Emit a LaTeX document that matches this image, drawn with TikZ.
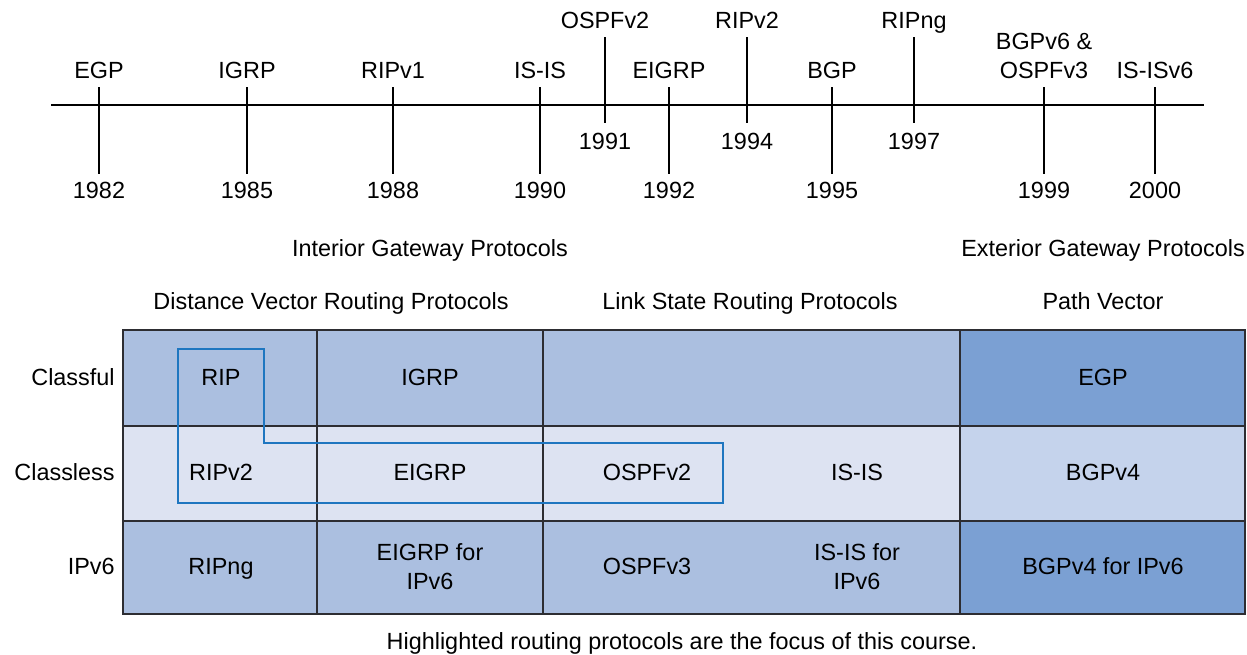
\documentclass[tikz,border=0pt]{standalone}
\usepackage{fontspec}
\setmainfont{Liberation Sans}
\usetikzlibrary{positioning}

\definecolor{igpcell}{RGB}{171,191,224}
\definecolor{igppale}{RGB}{221,227,242}
\definecolor{egpdark}{RGB}{123,160,211}
\definecolor{egplight}{RGB}{197,211,236}
\definecolor{focusblue}{RGB}{30,118,192}
\definecolor{gridline}{RGB}{45,45,50}

\tikzset{
  lbl/.style={anchor=south,align=center,inner sep=0pt,text depth=0pt},
  rowlbl/.style={anchor=south east,inner sep=0pt,text depth=0pt}
}

\begin{document}
\begin{tikzpicture}[x=0.5pt,y=-0.5pt,font=\fontsize{11.7}{14.5}\selectfont]
    \useasboundingbox (0,0) rectangle (1247,654);
    % timeline
    \draw[line width=1pt] (51,105) -- (1204,105);
    \foreach \x/\p/\yr in {99/EGP/1982, 247/IGRP/1985, 393/RIPv1/1988, 540/IS-IS/1990,
        669/EIGRP/1992, 832/BGP/1995, 1044/{BGPv6 \&\\OSPFv3}/1999, 1155/IS-ISv6/2000}{
      \draw[line width=1pt] (\x,87) -- (\x,174);
      \node[lbl] (p\yr) at (\x,79) {\p};
      \node[lbl] (y\yr) at (\x,199) {\yr};
    }
    \foreach \x/\p/\yr in {605/OSPFv2/1991, 747/RIPv2/1994, 914/RIPng/1997}{
      \draw[line width=1pt] (\x,37) -- (\x,123);
      \node[lbl] (p\yr) at (\x,29) {\p};
      \node[lbl] (y\yr) at (\x,150) {\yr};
    }

    % headings
    \node[lbl] (igp) at (430,257) {Interior Gateway Protocols};
    \node[lbl] (egp) at (1103,257) {Exterior Gateway Protocols};
    \node[lbl] (dv) at (331,310) {Distance Vector Routing Protocols};
    \node[lbl] (ls) at (750,310) {Link State Routing Protocols};
    \node[lbl] (pv) at (1103,310) {Path Vector};

    % table
    \fill[igpcell] (123,330) rectangle (960,426);
    \fill[igppale] (123,426) rectangle (960,521);
    \fill[igpcell] (123,521) rectangle (960,614);
    \fill[egpdark] (960,330) rectangle (1245,426);
    \fill[egplight] (960,426) rectangle (1245,521);
    \fill[egpdark] (960,521) rectangle (1245,614);
    \draw[gridline,line width=1pt] (123,330) rectangle (1245,614);
    \foreach \y in {426, 521}{
      \draw[gridline,line width=1pt] (123,\y) -- (1245,\y);
    }
    \foreach \x in {317, 543, 960}{
      \draw[gridline,line width=1pt] (\x,330) -- (\x,614);
    }

    \node[rowlbl] (classful) at (115,386) {Classful};
    \node[rowlbl] (classless) at (115,481) {Classless};
    \node[rowlbl] (ipv6) at (115,575) {IPv6};

    \node[lbl] (rip) at (221,386) {RIP};
    \node[lbl] (igrp) at (430,386) {IGRP};
    \node[lbl] (egpcell) at (1103,386) {EGP};
    \node[lbl] (ripv2) at (221,481) {RIPv2};
    \node[lbl] (eigrp) at (430,481) {EIGRP};
    \node[lbl] (ospfv2) at (647,481) {OSPFv2};
    \node[lbl] (isis) at (857,481) {IS-IS};
    \node[lbl] (bgpv4) at (1103,481) {BGPv4};
    \node[lbl] (ripng) at (221,575) {RIPng};
    \node[lbl] (eigrp6) at (430,590) {EIGRP for\\IPv6};
    \node[lbl] (ospfv3) at (647,575) {OSPFv3};
    \node[lbl] (isis6) at (857,590) {IS-IS for\\IPv6};
    \node[lbl] (bgpv46) at (1103,575) {BGPv4 for IPv6};

    % focus outline
    \draw[focusblue,line width=1pt] (178,349) -- (264,349) -- (264,443) -- (723,443)
      -- (723,503) -- (178,503) -- cycle;

    \node[lbl] (caption) at (682,650) {Highlighted routing protocols are the focus of this course.};
\end{tikzpicture}
\end{document}
